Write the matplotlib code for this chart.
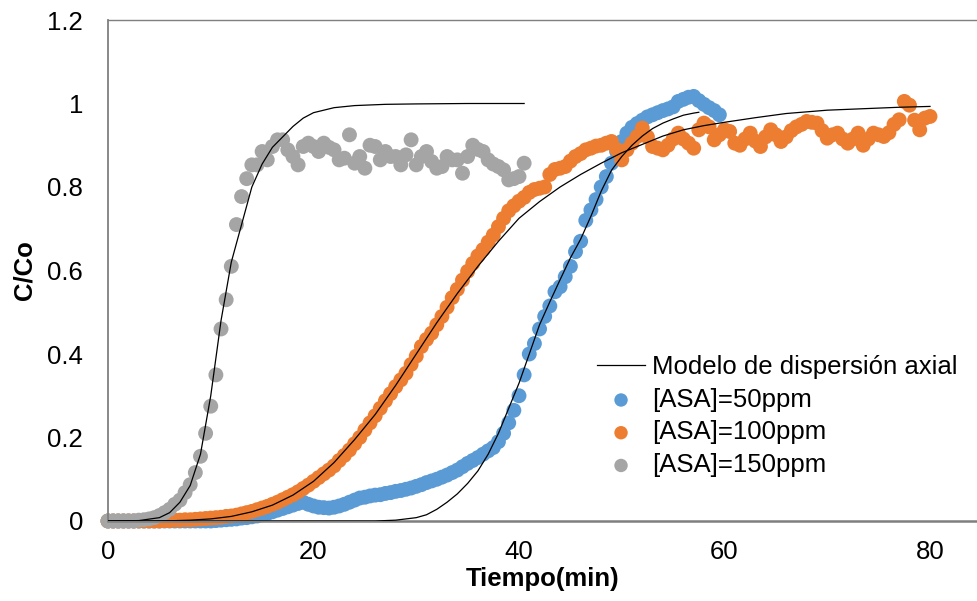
import numpy as np
import matplotlib
matplotlib.use("Agg")
import matplotlib.pyplot as plt

plt.rcParams['font.family'] = ['Liberation Sans', 'DejaVu Sans']

# ---------------- data ----------------
step = 0.5  # sampling interval (min)

asa50 = [0]*21 + [
    0.001, 0.002, 0.003, 0.004, 0.005, 0.007, 0.008, 0.010, 0.012, 0.015,
    0.018, 0.022, 0.026, 0.030, 0.034, 0.038, 0.042, 0.045, 0.040, 0.036,
    0.033, 0.032, 0.031, 0.033, 0.036, 0.040, 0.045, 0.050, 0.055, 0.057,
    0.060, 0.062, 0.063, 0.066, 0.068, 0.071, 0.073, 0.076, 0.079, 0.083,
    0.087, 0.092, 0.096, 0.100, 0.105, 0.110, 0.116, 0.122, 0.130, 0.138,
    0.145, 0.152, 0.160, 0.168, 0.176, 0.190, 0.210, 0.235, 0.265, 0.300,
    0.350, 0.400, 0.425, 0.460, 0.490, 0.515, 0.549, 0.561, 0.585, 0.610,
    0.645, 0.670, 0.720, 0.745, 0.770, 0.800, 0.825, 0.857, 0.885, 0.909,
    0.929, 0.943, 0.952, 0.960, 0.968, 0.973, 0.978, 0.983, 0.987, 0.992,
    1.005, 1.010, 1.015, 1.017, 1.007, 0.998, 0.990, 0.983, 0.973]

asa100 = [0]*11 + [
    0.001, 0.001, 0.002, 0.002, 0.003, 0.003, 0.004, 0.005, 0.006, 0.007,
    0.008, 0.009, 0.011, 0.012, 0.014, 0.017, 0.020, 0.023, 0.027, 0.031,
    0.035, 0.040, 0.045, 0.051, 0.057, 0.063, 0.070, 0.078, 0.086, 0.095,
    0.104, 0.113, 0.122, 0.132, 0.145, 0.157, 0.170, 0.185, 0.200, 0.218,
    0.235, 0.252, 0.270, 0.288, 0.305, 0.322, 0.338, 0.354, 0.375, 0.395,
    0.418, 0.435, 0.450, 0.470, 0.490, 0.512, 0.535, 0.555, 0.577, 0.598,
    0.617, 0.635, 0.650, 0.668, 0.685, 0.705, 0.725, 0.743, 0.755, 0.766,
    0.775, 0.787, 0.794, 0.797, 0.800, 0.830, 0.842, 0.845, 0.849, 0.862,
    0.873, 0.880, 0.889, 0.893, 0.898, 0.900, 0.905, 0.909, 0.890, 0.865,
    0.889, 0.905, 0.921, 0.941, 0.920, 0.897, 0.893, 0.889, 0.900, 0.915,
    0.929, 0.915, 0.905, 0.893, 0.937, 0.953, 0.944, 0.913, 0.925, 0.937,
    0.933, 0.905, 0.900, 0.915, 0.929, 0.910, 0.897, 0.920, 0.937, 0.925,
    0.909, 0.920, 0.935, 0.944, 0.950, 0.957, 0.955, 0.953, 0.935, 0.917,
    0.925, 0.929, 0.915, 0.905, 0.915, 0.929, 0.900, 0.915, 0.929, 0.925,
    0.921, 0.930, 0.950, 0.961, 1.005, 0.996, 0.960, 0.937, 0.965, 0.969]

asa150 = [
    0.000, 0.000, 0.000, 0.000, 0.000, 0.000, 0.002, 0.003, 0.005, 0.008,
    0.013, 0.020, 0.028, 0.040, 0.050, 0.068, 0.087, 0.116, 0.155, 0.210,
    0.275, 0.350, 0.460, 0.530, 0.610, 0.710, 0.777, 0.820, 0.853, 0.853,
    0.885, 0.865, 0.897, 0.913, 0.913, 0.889, 0.873, 0.853, 0.897, 0.905,
    0.897, 0.885, 0.905, 0.895, 0.889, 0.865, 0.869, 0.925, 0.857, 0.873,
    0.845, 0.900, 0.897, 0.865, 0.885, 0.873, 0.873, 0.853, 0.877, 0.913,
    0.853, 0.873, 0.885, 0.861, 0.845, 0.849, 0.873, 0.865, 0.865, 0.833,
    0.873, 0.900, 0.890, 0.885, 0.865, 0.855, 0.849, 0.841, 0.817, 0.820,
    0.825, 0.857]

# axial dispersion model curves
m150_x = [0, 3, 5, 6, 7, 8, 9, 10, 11, 12, 13, 14, 15, 16, 17, 18, 19, 20,
          22, 24, 27, 30, 35, 40.5]
m150_y = [0, 0.001, 0.008, 0.02, 0.045, 0.085, 0.16, 0.30, 0.48, 0.62, 0.71,
          0.80, 0.855, 0.895, 0.92, 0.945, 0.965, 0.978, 0.99, 0.995, 0.998,
          0.999, 1.0, 1.0]

m50_x = [0, 26, 28, 30, 31, 32, 33, 34, 35, 36, 37, 38, 39, 40, 41, 42, 43,
         44, 45, 46, 47, 48, 49, 50, 51, 52, 53, 54, 55, 56, 57, 57.5]
m50_y = [0, 0, 0.002, 0.008, 0.015, 0.028, 0.045, 0.065, 0.09, 0.12, 0.16,
         0.21, 0.27, 0.33, 0.40, 0.47, 0.525, 0.578, 0.63, 0.675, 0.73, 0.79,
         0.84, 0.873, 0.90, 0.922, 0.94, 0.953, 0.963, 0.972, 0.977, 0.979]

m100_x = [0, 4, 6, 8, 10, 12, 14, 16, 18, 20, 22, 24, 26, 28, 30, 32, 34, 36,
          38, 40, 42, 44, 46, 48, 50, 52, 54, 56, 58, 60, 63, 66, 70, 74, 77, 80]
m100_y = [0, 0, 0.0005, 0.002, 0.005, 0.011, 0.022, 0.038, 0.062, 0.095,
          0.14, 0.195, 0.255, 0.325, 0.40, 0.475, 0.545, 0.61, 0.67, 0.725,
          0.765, 0.80, 0.83, 0.857, 0.882, 0.902, 0.922, 0.937, 0.947, 0.955,
          0.966, 0.976, 0.984, 0.988, 0.991, 0.993]

labels = ["Modelo de dispersión axial", "[ASA]=50ppm", "[ASA]=100ppm", "[ASA]=150ppm"]
colors = ["#5B9BD5", "#ED7D31", "#A5A5A5"]

xticks = [0, 20, 40, 60, 80]
yticks = [0, 0.2, 0.4, 0.6, 0.8, 1.0, 1.2]
yticklabels = ["0", "0.2", "0.4", "0.6", "0.8", "1", "1.2"]

# ---------------- figure ----------------
fig = plt.figure(figsize=(9.78, 6.01), dpi=100)
ax = fig.add_axes([108/978, 80/601, 870/978, 501/601])

fs = 18.5
ms = 115

for ys, c, lab in zip([asa50, asa100, asa150], colors, labels[1:]):
    xs = np.arange(len(ys)) * step
    ax.scatter(xs, ys, s=ms, color=c, edgecolors='none', label=lab,
               zorder=2, clip_on=False)

line_handle = None
for mx, my in [(m150_x, m150_y), (m50_x, m50_y), (m100_x, m100_y)]:
    line_handle, = ax.plot(mx, my, color='black', lw=0.9, zorder=3)

ax.set_xlim(0, 870/10.275)
ax.set_ylim(0, 1.2)
ax.set_xticks(xticks)
ax.set_yticks(yticks)
ax.set_yticklabels(yticklabels)
ax.tick_params(axis='both', length=0, labelsize=fs, colors='#000000')
ax.tick_params(axis='y', pad=18)
ax.tick_params(axis='x', pad=14)

for s in ['left', 'top', 'bottom']:
    ax.spines[s].set_color('#7f7f7f')
ax.spines['left'].set_linewidth(1.3)
ax.spines['top'].set_linewidth(1.0)
ax.spines['bottom'].set_linewidth(1.8)
ax.spines['right'].set_visible(False)

ax.set_xlabel("Tiempo(min)", fontsize=fs, fontweight='bold', labelpad=2)
ax.set_ylabel("C/Co", fontsize=fs, fontweight='bold', labelpad=8)

handles, labs = ax.get_legend_handles_labels()
leg = ax.legend([line_handle] + handles, [labels[0]] + labs,
                loc='upper left', bbox_to_anchor=(597/978, 1 - 355/601),
                bbox_transform=fig.transFigure, frameon=False, fontsize=fs,
                handlelength=1.87, handletextpad=0.27, labelspacing=0.34,
                borderpad=0, borderaxespad=0, scatterpoints=1, markerscale=0.9)

fig.savefig("out.png", dpi=100)
